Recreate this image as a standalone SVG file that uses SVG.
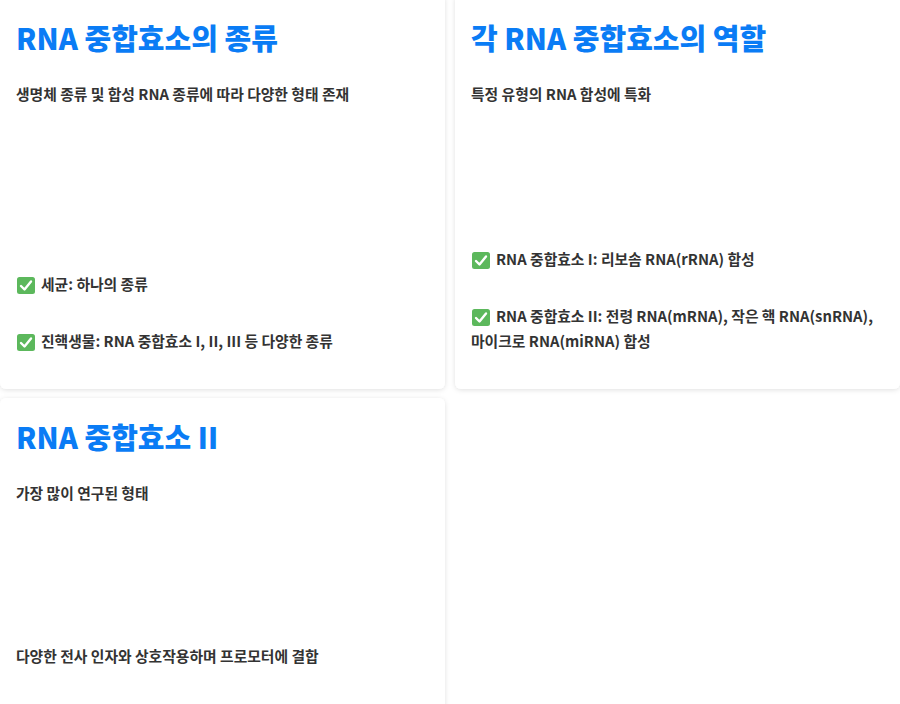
<svg xmlns="http://www.w3.org/2000/svg" width="900" height="704" viewBox="0 0 900 704">
<defs>
<filter id="sh" x="-5%" y="-5%" width="110%" height="110%"><feDropShadow dx="0" dy="1" stdDeviation="2.5" flood-color="#000" flood-opacity="0.12"/></filter>
<g id="chk"><rect x="0" y="0" width="18" height="17" rx="2.5" fill="#5cb85c"/><path d="M4 9 L7.5 12.5 L14 4.5" fill="none" stroke="#fff" stroke-width="2.4" stroke-linecap="round" stroke-linejoin="round"/></g>
</defs>
<style>
.card{fill:#fff;filter:url(#sh)}
.t{font-family:"Noto Sans CJK KR","Noto Sans",sans-serif;font-weight:900;font-size:29px;fill:#0a7cf5}
.b{font-family:"Noto Sans CJK KR","Noto Sans",sans-serif;font-weight:700;font-size:14.8px;fill:#333}
</style>
<rect width="900" height="704" fill="#fff"/>
<g id="card1">
<rect class="card" x="0" y="-6" width="445" height="395" rx="6"/>
<text class="t" x="16" y="50">RNA 중합효소의 종류</text>
<text class="b" x="16" y="100">생명체 종류 및 합성 RNA 종류에 따라 다양한 형태 존재</text>
<use href="#chk" x="17" y="277"/>
<text class="b" x="41" y="290">세균: 하나의 종류</text>
<use href="#chk" x="17" y="334"/>
<text class="b" x="41" y="347">진핵생물: RNA 중합효소 I, II, III 등 다양한 종류</text>
</g>
<g id="card2">
<rect class="card" x="455" y="-6" width="445" height="395" rx="6"/>
<text class="t" x="471" y="50">각 RNA 중합효소의 역할</text>
<text class="b" x="471" y="100">특정 유형의 RNA 합성에 특화</text>
<use href="#chk" x="472" y="252"/>
<text class="b" x="496" y="265">RNA 중합효소 I: 리보솜 RNA(rRNA) 합성</text>
<use href="#chk" x="472" y="309"/>
<text class="b" x="496" y="322">RNA 중합효소 II: 전령 RNA(mRNA), 작은 핵 RNA(snRNA),</text>
<text class="b" x="471" y="347">마이크로 RNA(miRNA) 합성</text>
</g>
<g id="card3">
<rect class="card" x="0" y="398" width="445" height="315" rx="6"/>
<text class="t" x="16" y="449">RNA 중합효소 II</text>
<text class="b" x="16" y="499">가장 많이 연구된 형태</text>
<text class="b" x="16" y="662">다양한 전사 인자와 상호작용하며 프로모터에 결합</text>
</g>
<g id="connectors"/>
</svg>
